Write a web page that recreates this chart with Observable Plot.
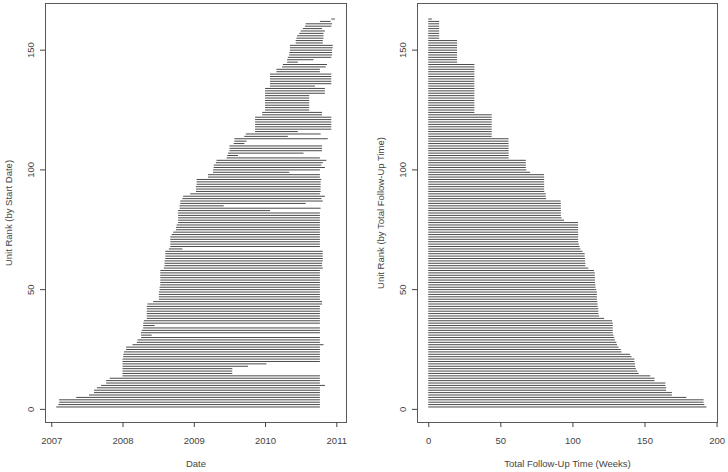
<!DOCTYPE html>
<html>
<head>
<meta charset="utf-8">
<script src="https://cdn.jsdelivr.net/npm/d3@7"></script>
<script src="https://cdn.jsdelivr.net/npm/@observablehq/plot@0.6"></script>
<style>
  html, body { margin: 0; padding: 0; background: #fff; }
  #wrap { display: flex; width: 728px; height: 472px; }
  #wrap svg { display: block; }
</style>
</head>
<body>
<div id="wrap"></div>
<script>
// Left panel: start and end of follow-up for each unit (decimal years), unit rank 1..163 by start date
const startYear = [
  2007.07, 2007.10, 2007.11, 2007.11, 2007.35, 2007.53, 2007.60, 2007.60, 2007.64, 2007.70,
  2007.77, 2007.77, 2007.82, 2008.00, 2008.00, 2008.00, 2008.00, 2008.00, 2008.00, 2008.00,
  2008.00, 2008.01, 2008.01, 2008.02, 2008.05, 2008.05, 2008.14, 2008.20, 2008.21, 2008.26,
  2008.26, 2008.26, 2008.27, 2008.29, 2008.29, 2008.29, 2008.30, 2008.34, 2008.34, 2008.34,
  2008.34, 2008.34, 2008.34, 2008.35, 2008.43, 2008.51, 2008.51, 2008.51, 2008.51, 2008.52,
  2008.52, 2008.53, 2008.53, 2008.53, 2008.53, 2008.53, 2008.53, 2008.53, 2008.58, 2008.59,
  2008.59, 2008.59, 2008.60, 2008.60, 2008.60, 2008.60, 2008.65, 2008.67, 2008.67, 2008.67,
  2008.67, 2008.67, 2008.69, 2008.71, 2008.75, 2008.75, 2008.76, 2008.78, 2008.78, 2008.78,
  2008.78, 2008.78, 2008.78, 2008.80, 2008.80, 2008.81, 2008.81, 2008.84, 2008.85, 2008.95,
  2009.03, 2009.03, 2009.03, 2009.04, 2009.04, 2009.04, 2009.20, 2009.20, 2009.27, 2009.27,
  2009.28, 2009.28, 2009.31, 2009.32, 2009.46, 2009.47, 2009.48, 2009.50, 2009.50, 2009.50,
  2009.56, 2009.57, 2009.57, 2009.71, 2009.73, 2009.86, 2009.86, 2009.86, 2009.86, 2009.86,
  2009.86, 2009.86, 2009.96, 2009.96, 2010.00, 2010.00, 2010.00, 2010.00, 2010.00, 2010.00,
  2010.00, 2010.00, 2010.00, 2010.00, 2010.07, 2010.07, 2010.07, 2010.07, 2010.07, 2010.07,
  2010.16, 2010.16, 2010.24, 2010.25, 2010.31, 2010.31, 2010.32, 2010.34, 2010.34, 2010.35,
  2010.35, 2010.35, 2010.43, 2010.43, 2010.44, 2010.45, 2010.48, 2010.50, 2010.53, 2010.56,
  2010.57, 2010.77, 2010.93
];
const endYear = [
  2010.77, 2010.77, 2010.77, 2010.77, 2010.77, 2010.77, 2010.77, 2010.77, 2010.77, 2010.84,
  2010.77, 2010.77, 2010.77, 2010.77, 2009.54, 2009.54, 2009.54, 2009.76, 2010.02, 2010.77,
  2010.77, 2010.77, 2010.77, 2010.77, 2010.77, 2010.77, 2010.82, 2010.77, 2010.77, 2010.77,
  2008.41, 2010.77, 2010.77, 2010.77, 2008.45, 2010.77, 2010.77, 2010.77, 2010.77, 2010.77,
  2010.77, 2010.77, 2010.77, 2010.80, 2010.80, 2010.77, 2010.77, 2010.77, 2010.77, 2010.77,
  2010.77, 2010.77, 2010.77, 2010.77, 2010.77, 2010.77, 2010.77, 2010.77, 2010.81, 2010.80,
  2010.80, 2010.81, 2010.81, 2010.81, 2010.81, 2010.81, 2008.84, 2010.77, 2010.77, 2010.77,
  2010.77, 2010.77, 2010.77, 2010.77, 2010.77, 2010.77, 2010.77, 2010.77, 2010.77, 2010.77,
  2010.77, 2010.77, 2010.07, 2010.78, 2009.42, 2010.57, 2010.81, 2010.79, 2010.84, 2010.77,
  2010.78, 2010.78, 2010.78, 2010.78, 2010.78, 2010.79, 2010.77, 2010.77, 2010.34, 2010.77,
  2010.84, 2010.79, 2010.81, 2010.86, 2010.77, 2009.62, 2010.54, 2010.80, 2010.80, 2010.80,
  2009.71, 2009.74, 2010.88, 2010.32, 2010.78, 2010.46, 2010.93, 2010.93, 2010.93, 2010.93,
  2010.93, 2010.93, 2010.80, 2010.80, 2010.62, 2010.62, 2010.62, 2010.62, 2010.62, 2010.62,
  2010.62, 2010.84, 2010.84, 2010.84, 2010.70, 2010.93, 2010.93, 2010.93, 2010.93, 2010.93,
  2010.77, 2010.77, 2010.85, 2010.87, 2010.46, 2010.68, 2010.93, 2010.94, 2010.94, 2010.94,
  2010.95, 2010.95, 2010.81, 2010.81, 2010.82, 2010.82, 2010.82, 2010.84, 2010.80, 2010.93,
  2010.94, 2010.92, 2010.98
];

// Right panel: total follow-up time (weeks), unit rank 1..163 by total follow-up time
const followUpWeeks = [
  193, 191.5, 191, 191, 179, 169, 169, 165, 165, 164.5,
  164.5, 157, 157, 154, 146, 145, 144, 143.5, 143.5, 143,
  143, 141, 140, 134, 133.5, 132, 131, 130.5, 129.5, 129,
  128.5, 128, 128, 128, 128, 128, 127.5, 122, 118.5, 118,
  118, 118, 117.5, 117.5, 117.3, 117, 117, 117, 117, 116.5,
  116, 116, 115.7, 115.7, 115.7, 115.5, 115.5, 115, 111, 109,
  109, 108.8, 108.8, 108.5, 108.5, 107, 105.5, 105, 104.5, 104,
  104, 104, 104, 104, 104, 104, 103.9, 103.9, 94.2, 92.5,
  92, 92, 92, 92, 92, 92, 91.8, 81.8, 81.5, 81.5,
  80.5, 80.4, 80.4, 80.4, 80.4, 80.4, 80.4, 80.3, 70.7, 68,
  67.7, 67.7, 67.7, 67.7, 55.8, 55.8, 55.8, 55.8, 55.8, 55.8,
  55.7, 55.7, 55.7, 44, 44, 44, 44, 44, 44, 44,
  44, 44, 44, 32, 32, 32, 32, 32, 32, 32,
  32, 32, 32, 32, 32, 32, 32, 32, 32, 32,
  32, 32, 32, 32, 20, 20, 20, 20, 20, 20,
  20, 20, 20, 20, 7.6, 7.6, 7.6, 7.6, 7.6, 7.6,
  7.6, 7.6, 2.5
];

// Tick labels
const yearTicks = [2007, 2008, 2009, 2010, 2011];
const weekTicks = [0, 50, 100, 150, 200];
const rankTicks = [0, 50, 100, 150];

const units = startYear.map((s, i) => ({rank: i + 1, start: s, end: endYear[i]}));
const follow = followUpWeeks.map((w, i) => ({rank: i + 1, weeks: w}));

const lineColor = "#4a4a4a";
const frameColor = "#5a5a5a";
const style = {
  fontFamily: "'Liberation Sans', Arial, sans-serif",
  fontSize: "9.5px",
  color: "#444",
  background: "white",
  overflow: "visible"
};
const common = {width: 364, height: 472, marginTop: 3, marginBottom: 50, style};

const left = Plot.plot({
  ...common,
  marginLeft: 45,
  marginRight: 18,
  x: {domain: [2006.912, 2011.136]},
  y: {domain: [-5.48, 169.48]},
  marks: [
    Plot.ruleY(units, {y: "rank", x1: "start", x2: "end", stroke: lineColor, strokeWidth: 1}),
    Plot.frame({stroke: frameColor}),
    Plot.axisX(yearTicks, {tickSize: 5, tickPadding: 10, tickFormat: d => String(d),
      label: "Date", labelAnchor: "center", labelArrow: "none", labelOffset: 44}),
    Plot.axisY(rankTicks, {tickSize: 5, tickPadding: 7, tickRotate: -90, tickFormat: d => String(d),
      label: "Unit Rank (by Start Date)", labelAnchor: "center", labelArrow: "none", labelOffset: 40})
  ]
});

const right = Plot.plot({
  ...common,
  marginLeft: 53,
  marginRight: 11,
  x: {domain: [-7.8, 200.3]},
  y: {domain: [-5.48, 169.48]},
  marks: [
    Plot.ruleY(follow, {y: "rank", x1: 0, x2: "weeks", stroke: lineColor, strokeWidth: 1}),
    Plot.frame({stroke: frameColor}),
    Plot.axisX(weekTicks, {tickSize: 5, tickPadding: 10, tickFormat: d => String(d),
      label: "Total Follow-Up Time (Weeks)", labelAnchor: "center", labelArrow: "none", labelOffset: 44}),
    Plot.axisY(rankTicks, {tickSize: 5, tickPadding: 7, tickRotate: -90, tickFormat: d => String(d),
      label: "Unit Rank (by Total Follow-Up Time)", labelAnchor: "center", labelArrow: "none", labelOffset: 40})
  ]
});

const wrap = document.getElementById("wrap");
wrap.appendChild(left);
wrap.appendChild(right);
</script>
</body>
</html>
